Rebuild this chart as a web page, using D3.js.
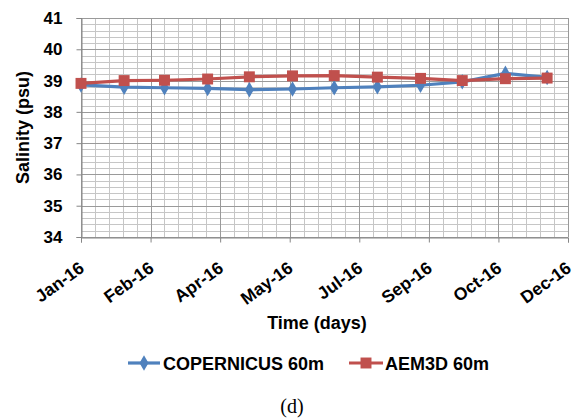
<!DOCTYPE html>
<html>
<head>
<meta charset="utf-8">
<script src="https://cdn.jsdelivr.net/npm/d3@7"></script>
<style>
  html, body { margin: 0; padding: 0; background: #fff; }
  svg { display: block; }
</style>
</head>
<body>
<svg id="chart" width="574" height="419" font-family="Liberation Sans, Arial, sans-serif"></svg>
<script>
// ---- data ----
const months = ["2016-01-01","2016-02-01","2016-03-01","2016-04-01","2016-05-01","2016-06-01",
                "2016-07-01","2016-08-01","2016-09-01","2016-10-01","2016-11-01","2016-12-01"];
const copernicus = [38.86, 38.79, 38.77, 38.75, 38.71, 38.73, 38.77, 38.80, 38.85, 38.96, 39.23, 39.10];
const aem3d      = [38.91, 39.00, 39.01, 39.05, 39.12, 39.15, 39.16, 39.11, 39.07, 39.00, 39.06, 39.08];
const xTickDates = ["2016-01-01","2016-02-20","2016-04-10","2016-05-30","2016-07-19","2016-09-07","2016-10-27","2016-12-16"];
const xTickLabels = ["Jan-16","Feb-16","Apr-16","May-16","Jul-16","Sep-16","Oct-16","Dec-16"];
const yTicks = [34, 35, 36, 37, 38, 39, 40, 41];
const seriesNames = ["COPERNICUS 60m", "AEM3D 60m"];
const seriesColors = ["#4F81BD", "#C0504D"];

(function () {
const FONT = "Liberation Sans, Arial, sans-serif";
const parse = d3.timeParse("%Y-%m-%d");
const svg = d3.select("#chart");

const pLeft = 81, pRight = 568, pTop = 18, pBottom = 237;
const x = d3.scaleTime().domain([parse(xTickDates[0]), parse(xTickDates[xTickDates.length - 1])]).range([pLeft, pRight]);
const y = d3.scaleLinear().domain([34, 41]).range([pBottom, pTop]);

// minor grid (every 10 days, every 0.2 psu)
const minorX = d3.range(0, 351, 10).map(d => d3.timeDay.offset(parse(xTickDates[0]), d));
const minorY = d3.range(34, 41.001, 0.2);
const g = svg.append("g");
g.selectAll(".mx").data(minorX).join("line")
  .attr("x1", d => Math.round(x(d)) + 0.5).attr("x2", d => Math.round(x(d)) + 0.5)
  .attr("y1", pTop).attr("y2", pBottom).attr("stroke", "#c6c6c6").attr("stroke-width", 1);
g.selectAll(".my").data(minorY).join("line")
  .attr("y1", d => Math.round(y(d)) + 0.5).attr("y2", d => Math.round(y(d)) + 0.5)
  .attr("x1", pLeft).attr("x2", pRight).attr("stroke", "#c6c6c6").attr("stroke-width", 1);
// major grid
g.selectAll(".Mx").data(xTickDates.map(parse)).join("line")
  .attr("x1", d => Math.round(x(d)) + 0.5).attr("x2", d => Math.round(x(d)) + 0.5)
  .attr("y1", pTop).attr("y2", pBottom).attr("stroke", "#9a9a9a").attr("stroke-width", 1);
g.selectAll(".My").data(yTicks).join("line")
  .attr("y1", d => Math.round(y(d)) + 0.5).attr("y2", d => Math.round(y(d)) + 0.5)
  .attr("x1", pLeft).attr("x2", pRight).attr("stroke", "#9a9a9a").attr("stroke-width", 1);

// axes
const yAxis = d3.axisLeft(y).tickValues(yTicks).tickSize(5).tickFormat(d3.format("d"));
const ya = svg.append("g").attr("transform", `translate(${pLeft + 0.5},0)`).call(yAxis)
  .attr("font-family", FONT).attr("font-size", 17);
ya.select(".domain").attr("stroke", "#868686");
ya.selectAll(".tick line").attr("stroke", "#868686");
ya.selectAll(".tick text").attr("x", -19).attr("font-weight", "bold").attr("fill", "#000");

const xAxis = d3.axisBottom(x).tickValues(xTickDates.map(parse)).tickSize(5).tickFormat((d, i) => xTickLabels[i]);
const xa = svg.append("g").attr("transform", `translate(0,${pBottom + 0.5})`).call(xAxis)
  .attr("font-family", FONT).attr("font-size", 17.5);
xa.select(".domain").attr("stroke", "#868686");
xa.selectAll(".tick line").attr("stroke", "#868686");
xa.selectAll(".tick text")
  .attr("font-weight", "bold").attr("fill", "#000")
  .attr("text-anchor", "end").attr("dy", null).attr("y", null)
  .attr("transform", "translate(4,33) rotate(-36)");

// series
const series = [copernicus, aem3d].map((vals, i) => ({
  name: seriesNames[i], color: seriesColors[i],
  pts: vals.map((v, j) => ({ date: parse(months[j]), v }))
}));
const line = d3.line().x(d => x(d.date)).y(d => y(d.v));
const diamond = d3.symbol().type(d3.symbolDiamond).size(70);
const square = d3.symbol().type(d3.symbolSquare).size(120);

series.forEach((s, i) => {
  svg.append("path").datum(s.pts).attr("d", line)
    .attr("fill", "none").attr("stroke", s.color).attr("stroke-width", 3.2).attr("stroke-linejoin", "round");
  svg.selectAll(".m" + i).data(s.pts).join("path")
    .attr("d", i === 0 ? diamond : square)
    .attr("transform", d => `translate(${x(d.date)},${y(d.v)})`)
    .attr("fill", s.color);
});

// axis titles
svg.append("text").attr("transform", "translate(29,127.5) rotate(-90)")
  .attr("text-anchor", "middle").attr("font-size", 18).attr("font-weight", "bold").text("Salinity (psu)");
svg.append("text").attr("x", 317).attr("y", 329)
  .attr("text-anchor", "middle").attr("font-size", 18).attr("font-weight", "bold").text("Time (days)");

// legend
const legendItems = [{ x1: 128, x2: 160, tx: 163 }, { x1: 349, x2: 383, tx: 385 }];
series.forEach((s, i) => {
  const L = legendItems[i];
  const ly = 363;
  svg.append("line").attr("x1", L.x1).attr("x2", L.x2).attr("y1", ly).attr("y2", ly)
    .attr("stroke", s.color).attr("stroke-width", 3.2);
  svg.append("path").attr("d", i === 0 ? diamond : square)
    .attr("transform", `translate(${(L.x1 + L.x2) / 2},${ly})`).attr("fill", s.color);
  svg.append("text").attr("x", L.tx).attr("y", 370).attr("font-size", 18).attr("font-weight", "bold")
    .text(s.name);
});

// caption
svg.append("text").attr("x", 292).attr("y", 413).attr("text-anchor", "middle")
  .attr("font-family", "Liberation Serif, 'Times New Roman', serif").attr("font-size", 20).text("(d)");
})();
</script>
</body>
</html>
